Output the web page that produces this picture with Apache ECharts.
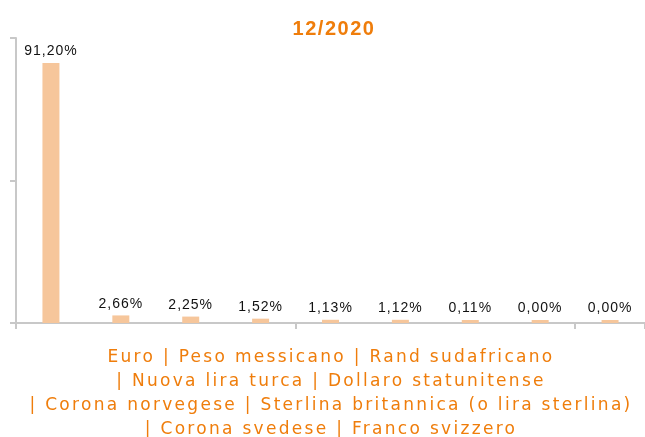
<!DOCTYPE html>
<html><head><meta charset="utf-8">
<script src="https://cdn.jsdelivr.net/npm/echarts@6/dist/echarts.min.js"></script>
<style>html,body{margin:0;padding:0;background:#fff}#c{width:645px;height:437px}</style>
</head><body><div id="c"></div>
<script>
var chartTitle = '12/2020';
var categories = ['Euro', 'Peso messicano', 'Rand sudafricano', 'Nuova lira turca', 'Dollaro statunitense', 'Corona norvegese', 'Sterlina britannica (o lira sterlina)', 'Corona svedese', 'Franco svizzero'];
var values = [91.20, 2.66, 2.25, 1.52, 1.13, 1.12, 0.11, 0.00, 0.00];
var lineBreakAfter = [2, 4, 6]; // category indexes after which the caption wraps

// letter spacing support: a marker family "lsN" in the font list sets canvas letterSpacing
(function () {
  var proto = window.CanvasRenderingContext2D && CanvasRenderingContext2D.prototype;
  if (!proto || !('letterSpacing' in proto)) return;
  ['fillText', 'strokeText', 'measureText'].forEach(function (fn) {
    var orig = proto[fn];
    proto[fn] = function () {
      var m = /ls(\d+(?:\.\d+)?)px/.exec(this.font || '');
      this.letterSpacing = m ? m[1] + 'px' : '0px';
      return orig.apply(this, arguments);
    };
  });
})();

var caption = '';
categories.forEach(function (c, i) {
  if (i > 0) caption += (lineBreakAfter.indexOf(i - 1) >= 0 ? '\n| ' : ' | ');
  caption += c;
});

var chart = echarts.init(document.getElementById('c'));
chart.setOption({
  animation: false,
  title: [{
    text: chartTitle, left: 329, top: 14, textAlign: 'center',
    textStyle: {color: '#ef7d0b', fontSize: 20, fontWeight: 'bold', fontFamily: '"Liberation Sans", "ls1.5px"'}
  }, {
    text: caption, left: 326, top: 341, textAlign: 'center',
    textStyle: {color: '#ef7d0b', fontSize: 17, fontWeight: 'normal', fontFamily: '"DejaVu Sans", "ls2.3px"', lineHeight: 24}
  }],
  grid: {left: 16, right: 0, top: 38, bottom: 114},
  xAxis: {
    type: 'category', data: categories,
    axisLine: {lineStyle: {color: '#c8c8c8', width: 2}},
    axisTick: {show: true, length: 6, lineStyle: {color: '#c8c8c8', width: 2}},
    axisLabel: {show: false}
  },
  yAxis: {
    type: 'value', min: 0, max: 100, interval: 50,
    axisLine: {show: true, lineStyle: {color: '#c8c8c8', width: 2}},
    axisTick: {show: true, length: 6, lineStyle: {color: '#c8c8c8', width: 2}},
    axisLabel: {show: false},
    splitLine: {show: false}
  },
  series: [{
    type: 'bar', data: values, barWidth: 17, barMinHeight: 3,
    itemStyle: {color: '#f6c69b'},
    label: {
      show: true, position: 'top', distance: 4,
      color: '#111', fontSize: 14, fontFamily: '"Liberation Sans", "ls1px"',
      formatter: function (p) { return p.value.toFixed(2).replace('.', ',') + '%'; }
    }
  }]
});
</script></body></html>
